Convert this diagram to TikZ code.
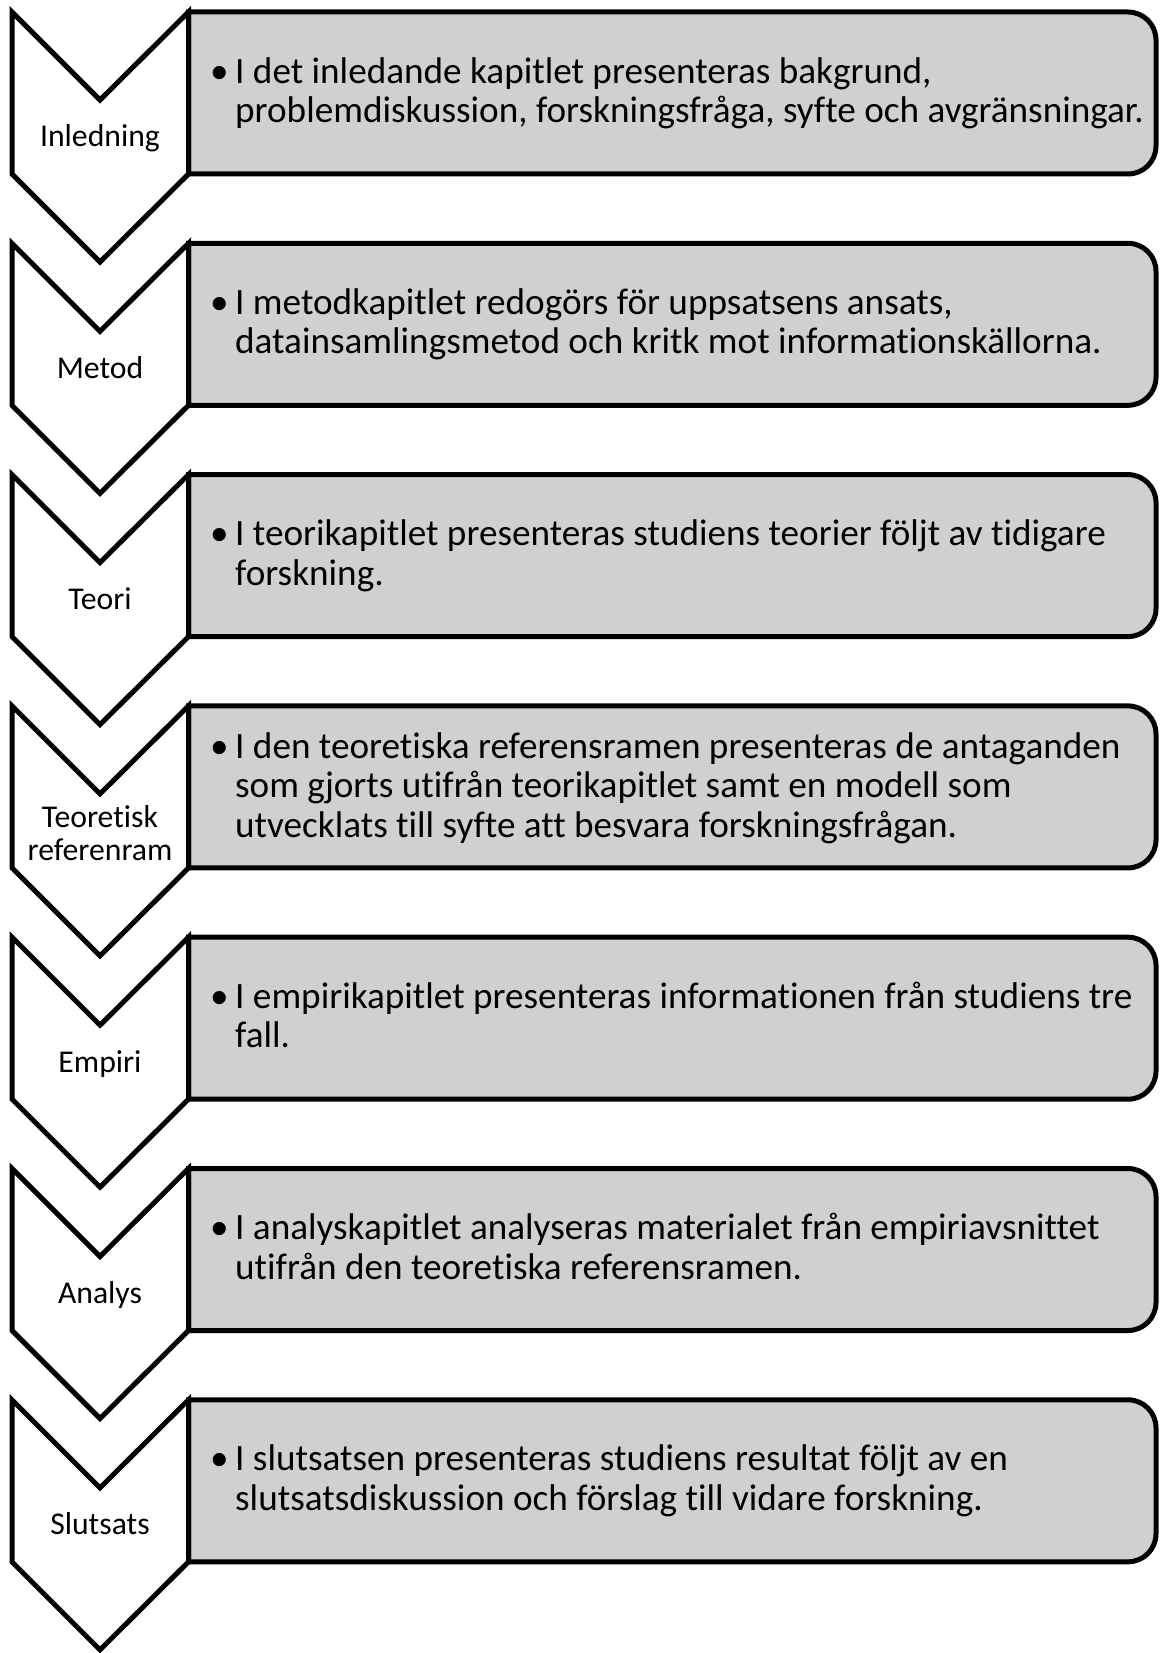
\documentclass[tikz,border=0pt]{standalone}
\usepackage{fontspec}
\setmainfont[Ligatures=NoCommon]{Carlito}
\definecolor{boxgray}{RGB}{208,208,208}
\tikzset{
  chev/.style={draw=black, line width=5pt, fill=white, line join=miter},
  infobox/.style={draw=black, line width=5pt, fill=boxgray},
  lbl/.style={font=\fontsize{31.7}{33}\selectfont, align=center, inner sep=0pt},
  body/.style={font=\fontsize{37.2}{39.5}\selectfont, anchor=west, inner sep=0pt}
}
\newcommand\bul{\makebox[26pt][l]{\hspace{1pt}\textbullet}}
\begin{document}
\begin{tikzpicture}[x=1pt,y=-1pt]
\useasboundingbox (0,0) rectangle (1161,1653);
\foreach \i in {0,...,6}{
  \pgfmathsetmacro\T{12+231.3*\i}
  \draw[infobox] (188.5,\T+162) -- (188.5,\T) [rounded corners=28pt] -- (1156,\T) -- (1156,\T+162) [sharp corners] -- cycle;
  \draw[chev] (12,\T) -- (100,\T+88) -- (188.5,\T) -- (188.5,\T+162) -- (100,\T+250) -- (12,\T+162) -- cycle;
}
% labels
\node[lbl, anchor=base] (l1) at (100,12+135) {Inledning};
\node[lbl, anchor=base] (l2) at (100,243.3+135) {Metod};
\node[lbl, anchor=base] (l3) at (100,474.6+135) {Teori};
\node[lbl] (l4) at (100,705.9+127) {Teoretisk\\referenram};
\node[lbl, anchor=base] (l5) at (100,937.2+135) {Empiri};
\node[lbl, anchor=base] (l6) at (100,1168.5+135) {Analys};
\node[lbl, anchor=base] (l7) at (100,1399.8+135) {Slutsats};
% box texts
\node[body] (b1) at (209,12+83) {\begin{tabular}{@{}l@{}l@{}}\bul & I det inledande kapitlet presenteras bakgrund,\\ & problemdiskussion, forskningsfråga, syfte och avgränsningar.\end{tabular}};
\node[body] (b2) at (209,243.3+83) {\begin{tabular}{@{}l@{}l@{}}\bul & I metodkapitlet redogörs för uppsatsens ansats,\\ & datainsamlingsmetod och kritk mot informationskällorna.\end{tabular}};
\node[body] (b3) at (209,474.6+83) {\begin{tabular}{@{}l@{}l@{}}\bul & I teorikapitlet presenteras studiens teorier följt av tidigare\\ & forskning.\end{tabular}};
\node[body] (b4) at (209,705.9+84) {\begin{tabular}{@{}l@{}l@{}}\bul & I den teoretiska referensramen presenteras de antaganden\\ & som gjorts utifrån teorikapitlet samt en modell som\\ & utvecklats till syfte att besvara forskningsfrågan.\end{tabular}};
\node[body] (b5) at (209,937.2+83) {\begin{tabular}{@{}l@{}l@{}}\bul & I empirikapitlet presenteras informationen från studiens tre\\ & fall.\end{tabular}};
\node[body] (b6) at (209,1168.5+83) {\begin{tabular}{@{}l@{}l@{}}\bul & I analyskapitlet analyseras materialet från empiriavsnittet\\ & utifrån den teoretiska referensramen.\end{tabular}};
\node[body] (b7) at (209,1399.8+83) {\begin{tabular}{@{}l@{}l@{}}\bul & I slutsatsen presenteras studiens resultat följt av en\\ & slutsatsdiskussion och förslag till vidare forskning.\end{tabular}};
\end{tikzpicture}
\end{document}
